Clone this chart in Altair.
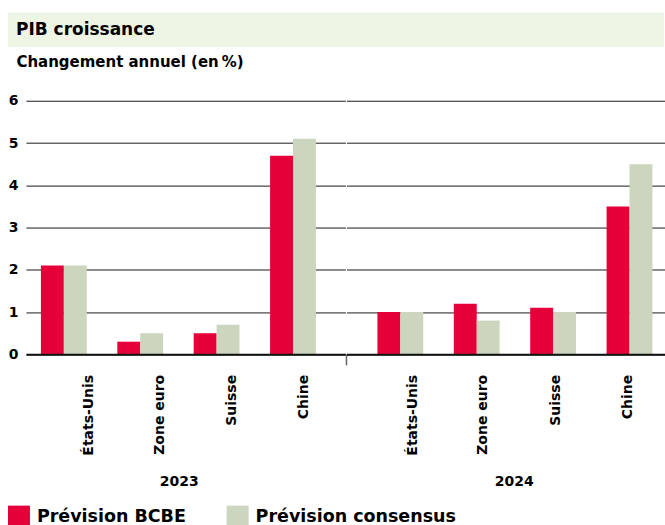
import altair as alt
import pandas as pd

# ---- data ----
countries = ["États-Unis", "Zone euro", "Suisse", "Chine"]
years = ["2023", "2024"]
series = ["Prévision BCBE", "Prévision consensus"]
bcbe_2023 = [2.1, 0.3, 0.5, 4.7]
cons_2023 = [2.1, 0.5, 0.7, 5.1]
bcbe_2024 = [1.0, 1.2, 1.1, 3.5]
cons_2024 = [1.0, 0.8, 1.0, 4.5]
y_ticks = [0, 1, 2, 3, 4, 5, 6]
title_text = "PIB croissance"
subtitle_text = "Changement annuel (en\u2009%)"

rows = []
for yr, b, c in [("2023", bcbe_2023, cons_2023), ("2024", bcbe_2024, cons_2024)]:
    for i, ctry in enumerate(countries):
        rows.append({"year": yr, "country": ctry, "series": series[0], "value": b[i]})
        rows.append({"year": yr, "country": ctry, "series": series[1], "value": c[i]})
df = pd.DataFrame(rows)

FONT = "DejaVu Sans"
RED = "#E6003A"
GREEN = "#CCD5BD"
BAND = "#EEF5E5"
PLOT_H = 254
LEFT = 18  # room between band start and plot start


def label_offset_expr(offs):
    e = str(offs[-1])
    for ctry, o in reversed(list(zip(countries[:-1], offs[:-1]))):
        e = f"datum.value === '{ctry}' ? {o} : ({e})"
    return alt.ExprRef(expr=e)


def panel(year, width, align, po, offs, title_x, first):
    if first:
        yaxis = alt.Axis(values=y_ticks, labelFont=FONT, labelFontSize=14, labelFontWeight="bold",
                         labelColor="black", labelPadding=8, ticks=False, domain=False,
                         gridColor="#1a1a1a", gridWidth=1,
                         title=subtitle_text, titleAngle=0, titleAlign="left", titleBaseline="middle",
                         titleX=-10, titleY=-39, titleFont=FONT, titleFontSize=15,
                         titleFontWeight="bold", titleColor="black")
    else:
        yaxis = alt.Axis(values=y_ticks, labels=False, ticks=False, domain=False, title=None,
                         gridColor="#1a1a1a", gridWidth=1)
    xaxis = alt.Axis(title=year, titleFont=FONT, titleFontSize=14, titleFontWeight="bold",
                     titleColor="black", titleX=title_x, titleY=127.5, titleAlign="center",
                     titleBaseline="middle",
                     labelAngle=270, labelFont=FONT, labelFontSize=14, labelFontWeight="bold",
                     labelColor="black", labelPadding=20, ticks=False, domain=True,
                     domainColor="#111111", domainWidth=2, grid=False, zindex=1,
                     labelOffset=label_offset_expr(offs))
    bars = alt.Chart(df).transform_filter(alt.datum.year == year).mark_bar().encode(
        x=alt.X("country:N", sort=countries,
                scale=alt.Scale(domain=countries, paddingInner=0.4, paddingOuter=po, align=align),
                axis=xaxis),
        xOffset=alt.XOffset("series:N", sort=series,
                            scale=alt.Scale(domain=series, paddingInner=0, paddingOuter=0)),
        y=alt.Y("value:Q", scale=alt.Scale(domain=[0, 6], nice=False), axis=yaxis),
        color=alt.Color("series:N", sort=series,
                        scale=alt.Scale(domain=series, range=[RED, GREEN]),
                        legend=alt.Legend(orient="none", legendX=-LEFT, legendY=494,
                                          direction="horizontal", title=None,
                                          symbolType="square", symbolSize=484,
                                          symbolStrokeWidth=0, labelFont=FONT,
                                          labelFontSize=17.5, labelFontWeight="bold",
                                          labelColor="black", labelOffset=7, labelLimit=0,
                                          columnPadding=40, padding=0)),
    )
    layers = [bars]
    if not first:
        sep = alt.Chart(pd.DataFrame({"k": [0]})).mark_rule(color="#666666", strokeWidth=1.5).encode(
            x=alt.value(0), y=alt.value(PLOT_H), y2=alt.value(PLOT_H + 11))
        layers.append(sep)
    return alt.layer(*layers).properties(width=width, height=PLOT_H)


p1 = panel("2023", 320, 0.336, 0.2916, [25.7, 20, 15.5, 11.5], 153, True)
p2 = panel("2024", 319, 0.711, 0.285, [12.5, 6.5, 3, -1.5], 167.5, False)
main = alt.hconcat(p1, p2, spacing=0).resolve_scale(x="independent")

hdr_df = pd.DataFrame({"t": [title_text]})
band = alt.Chart(hdr_df).mark_rect(color=BAND).encode(
    x=alt.value(-LEFT), x2=alt.value(639), y=alt.value(0), y2=alt.value(35))
htext = alt.Chart(hdr_df).mark_text(
    align="left", baseline="middle", font=FONT, fontSize=17, fontWeight="bold", color="black"
).encode(x=alt.value(8 - LEFT), y=alt.value(18), text="t:N")
header = alt.layer(band, htext).properties(width=639, height=35)

chart = alt.vconcat(header, main, spacing=7.5).properties(
    padding={"left": 8, "top": 12, "right": 0, "bottom": 0}, background="white"
).configure_view(stroke=None)

chart.save("out.html", embed_options={"renderer": "svg", "actions": False})
